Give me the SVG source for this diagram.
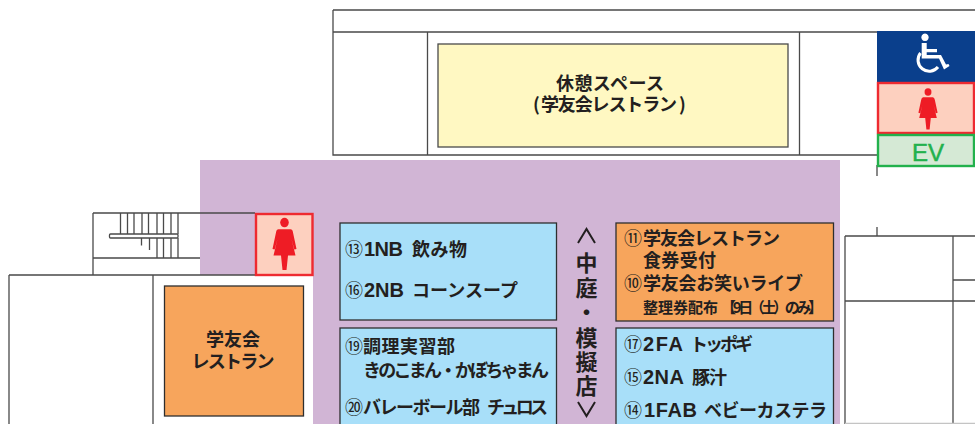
<svg xmlns="http://www.w3.org/2000/svg" width="975" height="424" viewBox="0 0 975 424">
<style>
text{font-family:"Noto Sans CJK JP","Noto Sans",sans-serif;fill:#231f20;font-weight:700;font-size:18px}
.c{text-anchor:middle}
.n{font-size:18px;font-weight:400}
.l{font-family:"Liberation Sans",Arial,sans-serif;font-size:20px}
.w{fill:none;stroke:#4a4a4a;stroke-width:1.3}
.b{stroke:#2e2e2e;stroke-width:1.3}
.blue{fill:#a8dff9}
.or{fill:#f7a55c}
.f{fill:#ee1c25}
.v{font-size:22px}
</style>
<defs>
<g id="woman"><circle cx="0" cy="-19" r="4.300"/><path d="M-6-13H6Q8-13 8.500-10L12 5 9.800 5.500 7-4 11 11H3.500L2 24H-2L-3.500 11H-11L-7-4-9.800 5.500-12 5-8.500-10Q-8-13-6-13Z"/></g>
</defs>
<rect width="975" height="424" fill="#fff"/>
<g id="courtyard"><path d="M200 160H840V424H313V275H200Z" fill="#d1b5d5"/></g>
<g id="walls" class="w">
<path d="M333 10H975M333 10V155H877M333 32H877M427.500 32V155M799.500 32V155M877 165V176M877 227V236"/>
<path d="M93 213H255M93 213V275M93 258H200M9 275H255M9 275V424M153 275V424"/>
<path d="M120.500 213V234M127.500 213V234M134 213V234M142 213V234M148.500 213V234M157 213V234M163.500 213V234M171 213V234M178 213V234M141.500 238V245.500M149.500 238V250M157 238V258M163.500 238V258M171 238V258M178 238V258"/>
<rect x="109.500" y="234" width="68.500" height="4" rx="1" fill="#fff"/>
<path d="M845 236H975M845 236V424M845 301H975M953 236V424M953 280H975"/>
<path d="M845 423.500H975" stroke="#c4c4c4"/>
</g>
<g id="lounge"><rect x="438" y="44" width="350" height="103" fill="#fff8c2" stroke="#4a4a4a" stroke-width="1.300"/>
<text x="556" y="90" textLength="108">休憩スペース</text><text x="533" y="111">(<tspan x="541" textLength="136">学友会レストラン</tspan><tspan x="679">)</tspan></text></g>
<g id="accessible"><rect x="877" y="31" width="98" height="51" fill="#0a3f8c"/>
<path d="M925 33.600a3.700 3.700 0 1 0 .01 0ZM921.700 43H926.700V49H937V52.200H926.700V55H941L946 64.500 948.500 64 949.500 66 944 69.500 939 58.500H921.700Z" fill="#fff"/>
<path d="M920.500 53A11 11 0 1 0 938 67" fill="none" stroke="#fff" stroke-width="3"/></g>
<g id="restroom-east"><rect x="878" y="83" width="96" height="50" fill="#fdd0bf" stroke="#ee2a30" stroke-width="2.400"/><use href="#woman" class="f" transform="translate(928 108.500) scale(.8 .87)"/></g>
<g id="elevator"><rect x="878" y="135" width="96" height="31" fill="#d5e9d5" stroke="#22b14c" stroke-width="2.400"/><text class="c" x="928" y="161" font-size="24" style="fill:#22b14c;stroke:#22b14c;stroke-width:.5;font-size:24px;font-family:'Liberation Sans',sans-serif;font-weight:400">EV</text></g>
<g id="restroom-west"><rect x="256" y="214" width="56.500" height="61" fill="#fdd0bf" stroke="#ee2a30" stroke-width="2.400"/><use href="#woman" class="f" transform="translate(284.500 243.500) scale(1 1.100)"/></g>
<g id="restaurant"><rect x="164.500" y="286" width="139" height="130" class="or b"/><text class="c" x="233" y="346" textLength="54">学友会</text><text class="c" x="233" y="368" textLength="83">レストラン</text></g>
<g id="booth-a"><rect x="340" y="223" width="216.500" height="97" class="blue b"/>
<text x="345" y="256"><tspan class="n">⑬</tspan><tspan class="l" x="364" textLength="39">1NB</tspan><tspan x="412" textLength="55">飲み物</tspan></text>
<text x="345" y="297"><tspan class="n">⑯</tspan><tspan class="l" x="364" textLength="40">2NB</tspan><tspan x="412" textLength="106">コーンスープ</tspan></text></g>
<g id="booth-b"><rect x="340" y="328" width="216.500" height="100" class="blue b"/>
<text x="345" y="353"><tspan class="n">⑲</tspan><tspan x="363" textLength="92">調理実習部</tspan></text>
<text x="363" y="377" textLength="186">きのこまん・かぼちゃまん</text>
<text x="345" y="414"><tspan class="n">⑳</tspan><tspan x="363" textLength="117">バレーボール部</tspan><tspan x="487" textLength="61">チュロス</tspan></text></g>
<g id="booth-c"><rect x="616" y="223" width="217.500" height="98" class="or b"/>
<text x="624" y="245"><tspan class="n">⑪</tspan><tspan x="643" textLength="137">学友会レストラン</tspan></text>
<text x="643" y="267" textLength="73">食券受付</text>
<text x="624" y="290"><tspan class="n">⑩</tspan><tspan x="643" textLength="160">学友会お笑いライブ</tspan></text>
<text x="643" y="313" style="font-size:15px"><tspan textLength="75">整理券配布</tspan><tspan x="721" textLength="102">【9日（土）のみ】</tspan></text></g>
<g id="booth-d"><rect x="616" y="328" width="217.500" height="100" class="blue b"/>
<text x="624" y="351"><tspan class="n">⑰</tspan><tspan class="l" x="643" textLength="40">2FA</tspan><tspan x="690" textLength="63">トッポギ</tspan></text>
<text x="624" y="384"><tspan class="n">⑮</tspan><tspan class="l" x="643" textLength="41">2NA</tspan><tspan x="692" textLength="35">豚汁</tspan></text>
<text x="624" y="417"><tspan class="n">⑭</tspan><tspan class="l" x="644" textLength="53">1FAB</tspan><tspan x="704" textLength="123">ベビーカステラ</tspan></text></g>
<g id="courtyard-label"><path d="M578 243L586.500 229 595 243M578 402L586.500 416 595 402" fill="none" stroke="#231f20" stroke-width="2"/>
<text class="v c"><tspan x="586.500" y="271">中</tspan><tspan x="586.500" y="296">庭</tspan><tspan x="586.500" y="320">・</tspan><tspan x="586.500" y="346">模</tspan><tspan x="586.500" y="370">擬</tspan><tspan x="586.500" y="394">店</tspan></text></g>
</svg>
